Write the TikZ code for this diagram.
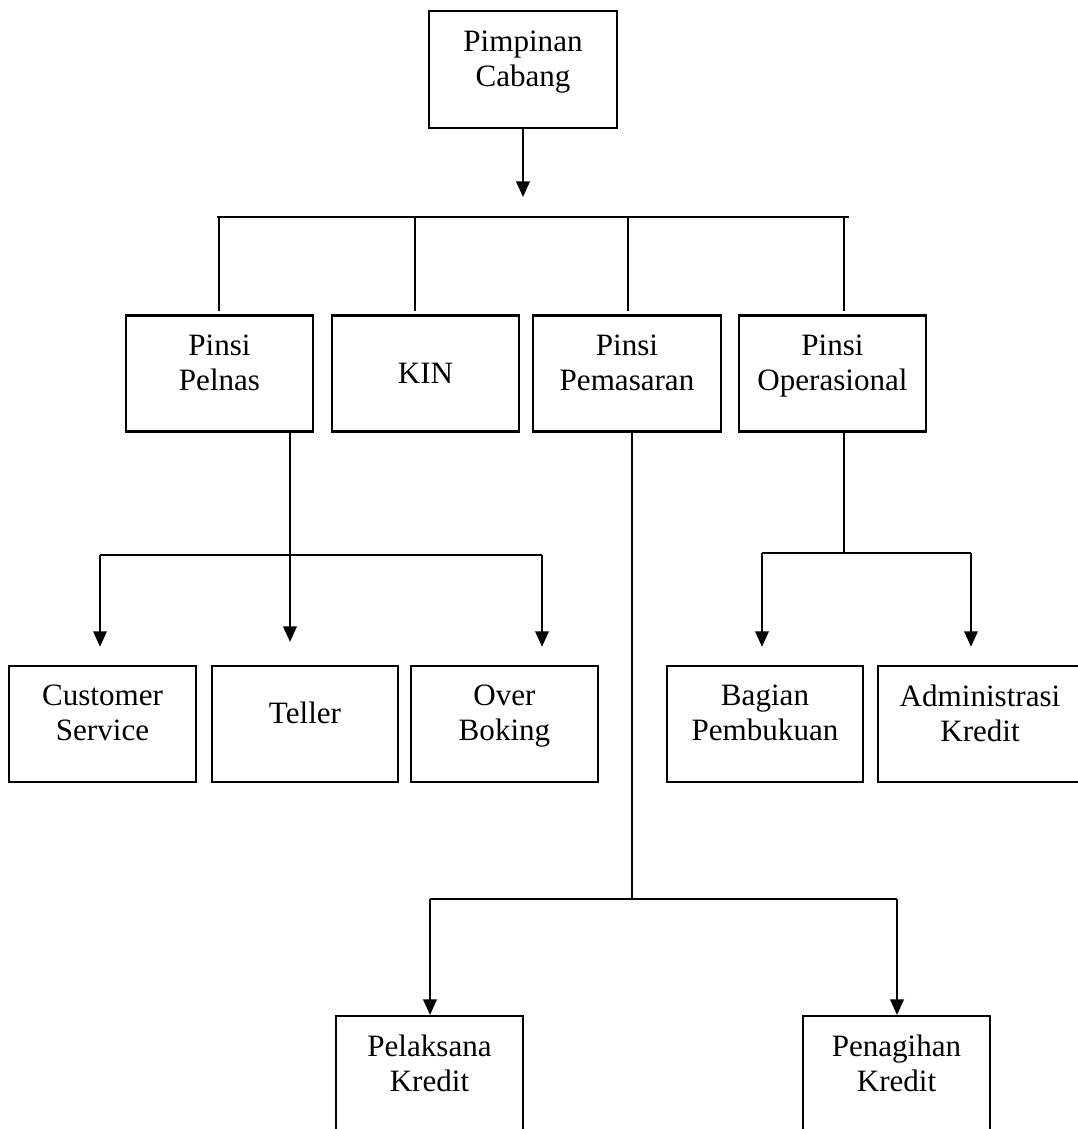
\documentclass[tikz,border=0pt]{standalone}
\usepackage{fontspec}
\setmainfont{Liberation Serif}
\usetikzlibrary{arrows.meta}
\begin{document}
\begin{tikzpicture}[x=0.3861pt, y=-0.3861pt, font=\fontsize{12}{13.5}\selectfont]

	% Styles
	\tikzset{
		box/.style={
			rectangle, draw=black, line width=0.8pt,
			minimum width=#1, minimum height=44.8pt,
			inner sep=0pt, align=center, text depth=8.5pt,
		},
		box/.default=72.2pt,
		line/.style={
			line width=0.8pt,
		},
		arrow/.style={
			line width=0.8pt, -{Triangle[length=6pt,width=5.2pt]},
		}
	}

	\useasboundingbox (0,0) rectangle (1078,1129);

	% Top box
	\node[box=72.6pt, minimum height=45.2pt] (pimpinan) at (523,69.5) {Pimpinan\\Cabang};

	% Second row
	\node[box] (pelnas) at (219.5,373.5) {Pinsi\\Pelnas};
	\node[box, text depth=0pt] (kin) at (425.5,373.5) {KIN};
	\node[box=72.6pt] (pemasaran) at (627,373.5) {Pinsi\\Pemasaran};
	\node[box] (operasional) at (832.5,373.5) {Pinsi\\Operasional};

	% Third row
	\node[box] (cs) at (102.5,724) {Customer\\Service};
	\node[box=71.8pt] (teller) at (305,724) {Teller};
	\node[box] (overboking) at (504.5,724) {Over\\Boking};
	\node[box=75.7pt] (bagian) at (765,724) {Bagian\\Pembukuan};
	\node[box=78.8pt] (admin) at (980,724) {Administrasi\\Kredit};

	% Bottom row (cut by the page edge)
	\node[box] (pelaksana) at (429.5,1074) {Pelaksana\\Kredit};
	\node[box] (penagihan) at (896.5,1074) {Penagihan\\Kredit};

	% Top connectors
	\coordinate (tip0) at (523,197);
	\draw[arrow] (pimpinan.south) -- (tip0);
	\coordinate (busL) at (217,217);
	\coordinate (busR) at (849,217);
	\draw[line] (busL) -- (busR);
	\coordinate (b1) at (219,217);
	\coordinate (b2) at (415,217);
	\coordinate (b3) at (628,217);
	\coordinate (b4) at (844,217);
	\foreach \b/\n in {b1/pelnas, b2/kin, b3/pemasaran, b4/operasional}
		\draw[line] (\b) -- ([yshift=1.5pt]\b |- \n.north);

	% Pinsi Pelnas branch
	\coordinate (pL) at (100,555);
	\coordinate (pT) at (290,555);
	\coordinate (pR) at (542,555);
	\draw[line] (pL) -- (pR);
	\draw[arrow] (pelnas.south -| pT) -- ([yshift=8.9pt]pT |- teller.north);
	\draw[arrow] (pL) -- ([yshift=7pt]pL |- cs.north);
	\draw[arrow] (pR) -- ([yshift=7pt]pR |- overboking.north);

	% Pinsi Operasional branch
	\coordinate (oL) at (762,553);
	\coordinate (oT) at (844,553);
	\coordinate (oR) at (971,553);
	\draw[line] (operasional.south -| oT) -- (oT);
	\draw[line] (oL) -- (oR);
	\draw[arrow] (oL) -- ([yshift=7pt]oL |- bagian.north);
	\draw[arrow] (oR) -- ([yshift=7pt]oR |- admin.north);

	% Pinsi Pemasaran branch
	\coordinate (mL) at (430,899);
	\coordinate (mT) at (632,899);
	\coordinate (mR) at (897,899);
	\draw[line] (pemasaran.south -| mT) -- (mT);
	\draw[line] (mL) -- (mR);
	\draw[arrow] (mL) -- (mL |- pelaksana.north);
	\draw[arrow] (mR) -- (mR |- penagihan.north);

\end{tikzpicture}
\end{document}
